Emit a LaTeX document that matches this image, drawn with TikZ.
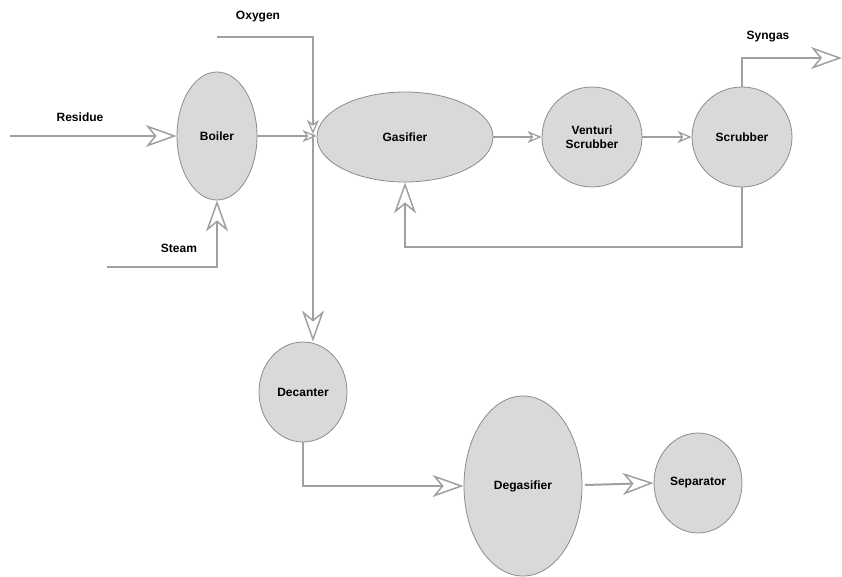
\documentclass[tikz,border=0pt]{standalone}
\usepackage{fontspec}
\setmainfont{Liberation Sans}
\usetikzlibrary{shapes.geometric,arrows.meta}
\definecolor{pipe}{RGB}{160,160,160}
\definecolor{unitfill}{RGB}{217,217,217}
\definecolor{unitline}{RGB}{140,140,140}
\tikzset{
  unit/.style={ellipse, draw=unitline, line width=0.8pt, fill=unitfill,
    inner sep=0pt, align=center, font=\bfseries\fontsize{12}{14}\selectfont},
  flow/.style={draw=pipe, line width=2pt},
  bigtip/.style={-{Stealth[open, length=31pt, width=22pt, inset=9pt, line width=1.5pt]}},
  smalltip/.style={-{Stealth[open, length=14pt, width=12pt, inset=4pt, line width=1.3pt]}},
  tag/.style={font=\bfseries\fontsize{12}{14}\selectfont, inner sep=0pt}
}
\begin{document}
\begin{tikzpicture}[x=1pt, y=-1pt]
\useasboundingbox (0,0) rectangle (842,576);

% process units
\node[unit, minimum width=80pt, minimum height=128pt] (boiler) at (217,136) {Boiler};
\node[unit, minimum width=176pt, minimum height=90pt] (gas) at (405,137) {Gasifier};
\node[unit, minimum width=100pt, minimum height=100pt] (vent) at (592,137) {Venturi\\Scrubber};
\node[unit, minimum width=100pt, minimum height=100pt] (scrub) at (742,137) {Scrubber};
\node[unit, minimum width=88pt, minimum height=100pt] (dec) at (303,392) {Decanter};
\node[unit, minimum width=118pt, minimum height=180pt] (degas) at (523,486) {Degasifier};
\node[unit, minimum width=88pt, minimum height=100pt] (sep) at (698,483) {Separator};

% stream labels
\node[tag] (lres) at (80,117) {Residue};
\node[tag] (lsteam) at (179,248) {Steam};
\node[tag] (loxy) at (258,17) {Oxygen};
\node[tag] (lsyn) at (768,37) {Syngas};

% free ends of feed and product lines
\coordinate (resin) at (10,136);
\coordinate (steamin) at (107,267);
\coordinate (oxyin) at (217,37);
\coordinate (synout) at (842,58);
\coordinate (gasin) at (313,134);
\coordinate (recyc) at (742,247);

% feeds
\draw[flow, bigtip] (resin) -- (boiler.west);
\draw[flow, bigtip] (steamin) -| (boiler.south);
\draw[flow, smalltip] (boiler.east) -- (boiler.east -| gas.west);
\draw[flow, smalltip] (oxyin) -| (gasin);

% gas train
\draw[flow, smalltip] (gas.east) -- (vent.west);
\draw[flow, smalltip] (vent.east) -- (scrub.west);
\draw[flow, bigtip] (scrub.north) |- (synout);
\draw[flow, bigtip] (scrub.south) -- (recyc) -| (gas.south);

% liquid train
\draw[flow, bigtip] (gasin) -- (gasin |- dec.north);
\draw[flow, bigtip] (dec.south) |- (degas.west);
\draw[flow, bigtip] (585,485) -- (sep.west);
\end{tikzpicture}
\end{document}
